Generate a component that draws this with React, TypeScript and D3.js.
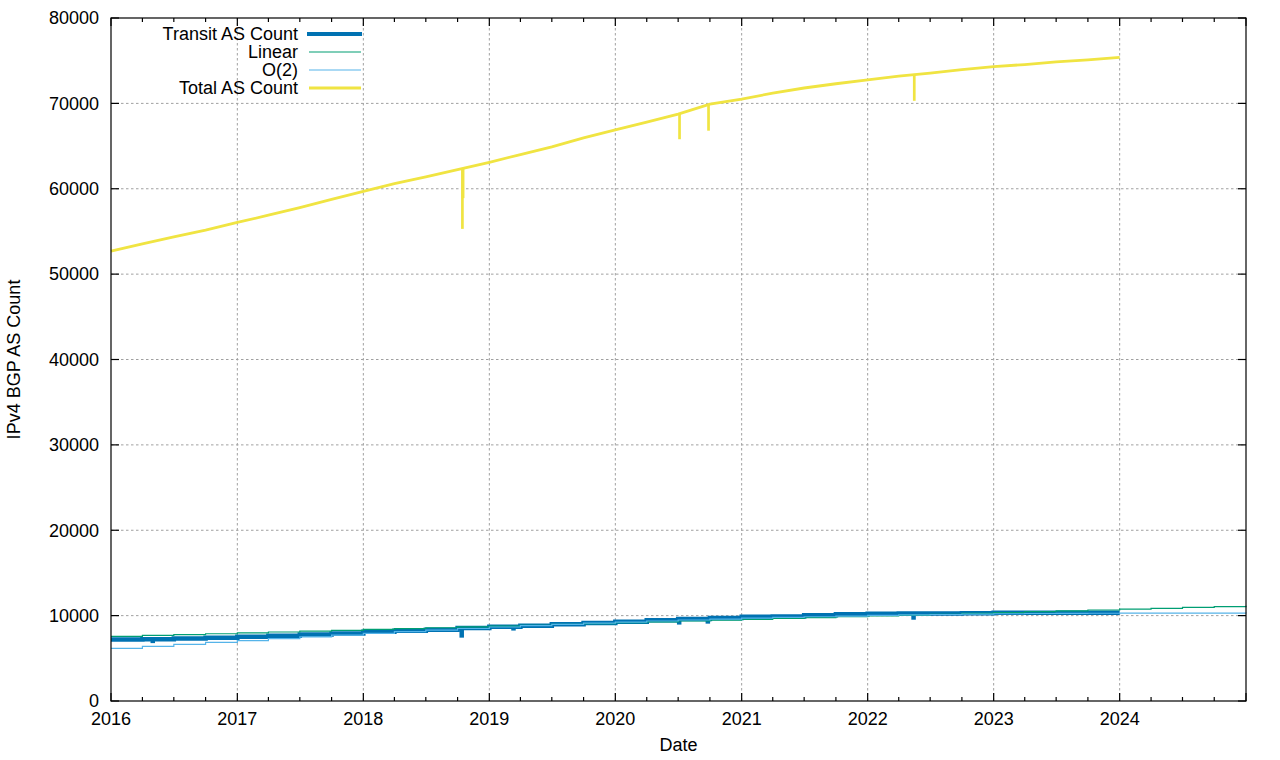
import React from "react";
import * as d3 from "d3";

// ---- data ----
const quarterDates = [
  "2016-01-01", "2016-04-01", "2016-07-01", "2016-10-01",
  "2017-01-01", "2017-04-01", "2017-07-01", "2017-10-01",
  "2018-01-01", "2018-04-01", "2018-07-01", "2018-10-01",
  "2019-01-01", "2019-04-01", "2019-07-01", "2019-10-01",
  "2020-01-01", "2020-04-01", "2020-07-01", "2020-10-01",
  "2021-01-01", "2021-04-01", "2021-07-01", "2021-10-01",
  "2022-01-01", "2022-04-01", "2022-07-01", "2022-10-01",
  "2023-01-01", "2023-04-01", "2023-07-01", "2023-10-01",
  "2024-01-01", "2024-04-01", "2024-07-01", "2024-10-01",
  "2025-01-01",
];

const transitCounts = [
  7200, 7230, 7320, 7420, 7530, 7650, 7780, 7900,
  8100, 8230, 8350, 8550, 8700, 8800, 8980, 9130,
  9290, 9450, 9600, 9720, 9870, 9900, 10050, 10150,
  10230, 10250, 10260, 10270, 10330, 10340, 10330, 10350,
  10350,
];

const linearFit = [
  7580, 7680, 7780, 7880, 7980, 8080, 8180, 8280,
  8380, 8480, 8580, 8680, 8780, 8870, 8970, 9070,
  9170, 9270, 9370, 9470, 9570, 9670, 9770, 9870,
  9960, 10060, 10160, 10260, 10360, 10460, 10560, 10660,
  10760, 10860, 10960, 11060, 11160,
];

const quadraticFit = [
  6170, 6400, 6640, 6860, 7080, 7300, 7510, 7720,
  7920, 8120, 8310, 8490, 8670, 8830, 8980, 9120,
  9250, 9370, 9490, 9600, 9700, 9790, 9870, 9950,
  10020, 10080, 10130, 10180, 10220, 10250, 10270, 10280,
  10290, 10295, 10295, 10290, 10285,
];

const totalCounts = [
  52700, 53550, 54350, 55150, 56050, 56900, 57800, 58750,
  59700, 60600, 61400, 62250, 63100, 64000, 64900, 65950,
  66900, 67800, 68750, 69900, 70500, 71200, 71800, 72300,
  72750, 73200, 73550, 73950, 74300, 74550, 74850, 75100,
  75400,
];

const transitDips = [
  { date: "2016-05-01", top: 7250, bottom: 6780 },
  { date: "2018-10-13", top: 8550, bottom: 7420 },
  { date: "2019-03-12", top: 8800, bottom: 8250 },
  { date: "2020-07-04", top: 9600, bottom: 8950 },
  { date: "2020-09-25", top: 9720, bottom: 9060 },
  { date: "2022-05-14", top: 10250, bottom: 9520 },
];

const totalDips = [
  { date: "2018-10-15", top: 62350, bottom: 55300 },
  { date: "2018-10-17", top: 62350, bottom: 58900 },
  { date: "2020-07-05", top: 68800, bottom: 65800 },
  { date: "2020-09-27", top: 69850, bottom: 66800 },
  { date: "2022-05-16", top: 73450, bottom: 70300 },
];

const yTickValues = [0, 10000, 20000, 30000, 40000, 50000, 60000, 70000, 80000];
const yearLabels = ["2016", "2017", "2018", "2019", "2020", "2021", "2022", "2023", "2024"];

const series = [
  { name: "Transit AS Count", color: "#0072b2", width: 4.5, values: transitCounts, dips: transitDips, dipWidth: 4.5, curve: "step" },
  { name: "Linear", color: "#009e73", width: 1.2, values: linearFit, dips: [], dipWidth: 0, curve: "step" },
  { name: "O(2)", color: "#56b4e9", width: 1.2, values: quadraticFit, dips: [], dipWidth: 0, curve: "step" },
  { name: "Total AS Count", color: "#f0e442", width: 2.8, values: totalCounts, dips: totalDips, dipWidth: 2.7, curve: "linear" },
];

const W = 1280, H = 760;
const L = 111, R = 1246, T = 18, B = 701;
const FONT = "'Liberation Sans', Arial, Helvetica, sans-serif";
const FS = 18;

export default function App() {
  const parse = d3.timeParse("%Y-%m-%d");
  const dates = quarterDates.map((d) => parse(d) as Date);
  const x = d3.scaleTime().domain([parse("2016-01-01") as Date, parse("2025-01-01") as Date]).range([L, R]);
  const y = d3.scaleLinear().domain([0, 80000]).range([B, T]);

  const yearTicks = x.ticks(d3.timeYear.every(1) as any);
  const minorTicks = x.ticks(d3.timeMonth.every(3) as any).filter((d) => d.getMonth() !== 0);

  const grid = "#a0a0a0";

  return (
    <svg width={W} height={H} style={{ position: "absolute", left: 0, top: 0, background: "#fff" }} fontFamily={FONT}>
      <rect x={0} y={0} width={W} height={H} fill="#fff" />
      {/* grid */}
      {yTickValues.filter((v) => v > 0 && v < 80000).map((v) => (
        <line key={"gy" + v} x1={L} x2={R} y1={y(v)} y2={y(v)} stroke={grid} strokeWidth={1} strokeDasharray="2.5,2.5" />
      ))}
      {yearTicks.filter((d) => x(d) > L + 1 && x(d) < R - 1).map((d, i) => (
        <line key={"gx" + i} x1={x(d)} x2={x(d)} y1={T} y2={B} stroke={grid} strokeWidth={1} strokeDasharray="2.5,2.5" />
      ))}

      {/* series */}
      {series.map((s) => {
        const pts = s.values.map((v, i) => [dates[i], v] as [Date, number]);
        const line = d3
          .line<[Date, number]>()
          .x((d) => x(d[0]))
          .y((d) => y(d[1]))
          .curve(s.curve === "step" ? d3.curveStepAfter : d3.curveLinear);
        return (
          <g key={s.name}>
            <path d={line(pts) || ""} fill="none" stroke={s.color} strokeWidth={s.width} strokeLinejoin="miter" />
            {s.dips.map((dp, i) => {
              const dx = x(parse(dp.date) as Date);
              return <line key={i} x1={dx} x2={dx} y1={y(dp.top)} y2={y(dp.bottom)} stroke={s.color} strokeWidth={s.dipWidth} />;
            })}
          </g>
        );
      })}

      {/* frame */}
      <rect x={L} y={T} width={R - L} height={B - T} fill="none" stroke="#000" strokeWidth={1.2} />

      {/* y ticks */}
      {yTickValues.map((v) => (
        <g key={"yt" + v}>
          <line x1={L} x2={L + 8} y1={y(v)} y2={y(v)} stroke="#000" strokeWidth={1.2} />
          <line x1={R - 8} x2={R} y1={y(v)} y2={y(v)} stroke="#000" strokeWidth={1.2} />
          <text x={L - 12} y={y(v)} dy="0.35em" textAnchor="end" fontSize={FS} fill="#000">{d3.format("d")(v)}</text>
        </g>
      ))}

      {/* x ticks */}
      {yearTicks.map((d, i) => (
        <g key={"xt" + i}>
          <line x1={x(d)} x2={x(d)} y1={B} y2={B - 8} stroke="#000" strokeWidth={1.2} />
          <line x1={x(d)} x2={x(d)} y1={T} y2={T + 8} stroke="#000" strokeWidth={1.2} />
        </g>
      ))}
      {minorTicks.map((d, i) => (
        <g key={"mt" + i}>
          <line x1={x(d)} x2={x(d)} y1={B} y2={B - 4} stroke="#000" strokeWidth={1.2} />
          <line x1={x(d)} x2={x(d)} y1={T} y2={T + 4} stroke="#000" strokeWidth={1.2} />
        </g>
      ))}
      {yearLabels.map((lab) => (
        <text key={"xl" + lab} x={x(parse(lab + "-01-01") as Date)} y={B + 24} textAnchor="middle" fontSize={FS} fill="#000">{lab}</text>
      ))}

      {/* axis titles */}
      <text x={(L + R) / 2} y={751} textAnchor="middle" fontSize={FS} fill="#000">Date</text>
      <text transform={`translate(19.5, ${(T + B) / 2}) rotate(-90)`} textAnchor="middle" fontSize={FS} fill="#000">IPv4 BGP AS Count</text>

      {/* legend */}
      {series.map((s, i) => {
        const ly = 34 + i * 18;
        return (
          <g key={"lg" + s.name}>
            <text x={298} y={ly} dy="0.35em" textAnchor="end" fontSize={FS} fill="#000">{s.name}</text>
            <line x1={s.width > 3 ? 307 : 309} x2={s.width > 3 ? 362 : 361} y1={ly} y2={ly} stroke={s.color} strokeWidth={s.width > 3 ? 4 : s.width} />
          </g>
        );
      })}
    </svg>
  );
}
